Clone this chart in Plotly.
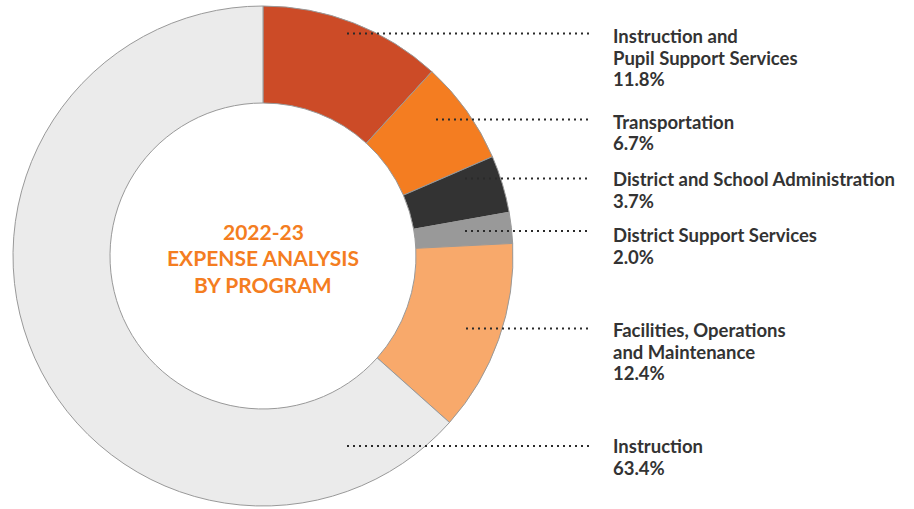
import plotly.graph_objects as go

W, H = 914, 509

programs = ["Instruction and<br>Pupil Support Services", "Transportation",
            "District and School Administration", "District Support Services",
            "Facilities, Operations<br>and Maintenance", "Instruction"]
shares = [11.8, 6.7, 3.7, 2.0, 12.4, 63.4]
colors = ["#CC4B27", "#F47D21", "#333333", "#999999", "#F8A96B", "#EBEBEB"]

center_lines = ["2022-23", "EXPENSE ANALYSIS", "BY PROGRAM"]

# leader line (start x, y) and baseline of first label line, in pixels
leader_start = [347, 436, 465, 465, 466, 347]
leader_y = [33.5, 119.5, 178.5, 231, 328.5, 446]
label_base = [42.7, 128.3, 186, 241.7, 336.7, 452.7]
LINE_GAP = 21.7


def px(x):
    return x / W


def py(y):
    return 1 - y / H


fig = go.Figure(go.Pie(
    labels=[p.replace("<br>", " ") for p in programs],
    values=shares,
    sort=False,
    direction="clockwise",
    rotation=0,
    hole=0.612,
    marker=dict(colors=colors, line=dict(color="#999999", width=1)),
    textinfo="none",
    hoverinfo="label+percent",
    domain=dict(x=[px(13), px(513)], y=[py(506), py(6)]),
    showlegend=False,
))

LABEL_SIZE = 18.5
for name, val, x0, ly, base in zip(programs, shares, leader_start, leader_y, label_base):
    fig.add_shape(type="line", xref="paper", yref="paper",
                  x0=px(x0), x1=px(589), y0=py(ly), y1=py(ly),
                  line=dict(color="#2a2a2a", width=2, dash="2px,4px"))
    lines = name.split("<br>") + [f"{val:.1f}%"]
    for i, line in enumerate(lines):
        fig.add_annotation(xref="paper", yref="paper", x=px(611),
                           y=py(base + i * LINE_GAP - 0.36 * LABEL_SIZE),
                           xanchor="left", yanchor="middle", align="left",
                           showarrow=False, text=f"<b>{line}</b>",
                           font=dict(family="Lato", size=LABEL_SIZE, color="#333333"))

CENTER_SIZE = 21
for i, line in enumerate(center_lines):
    fig.add_annotation(xref="paper", yref="paper", x=px(263),
                       y=py(239.3 + i * 26.2 - 0.36 * CENTER_SIZE),
                       xanchor="center", yanchor="middle", align="center",
                       showarrow=False, text=f"<b>{line}</b>",
                       font=dict(family="Lato", size=CENTER_SIZE, color="#F47D21"))

fig.update_layout(
    width=W, height=H,
    margin=dict(l=0, r=0, t=0, b=0),
    paper_bgcolor="white",
    plot_bgcolor="white",
)

fig.write_html("out.html", config={"displayModeBar": False},
               post_script="document.body.style.margin='0';")
